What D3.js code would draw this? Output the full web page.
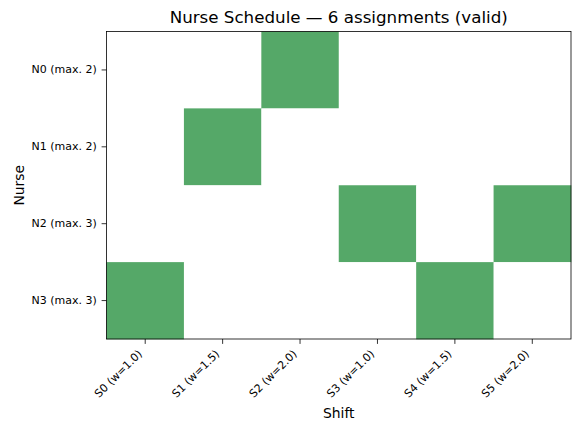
<!DOCTYPE html>
<html>
<head>
<meta charset="utf-8">
<script src="https://cdn.jsdelivr.net/npm/d3@7"></script>
<style>
  body { margin: 0; background: #fff; }
  text { font-family: "DejaVu Sans", sans-serif; fill: #000; }
</style>
</head>
<body>
<svg></svg>
<script>
const width = 581;
const height = 431;

const shifts = ['S0 (w=1.0)', 'S1 (w=1.5)', 'S2 (w=2.0)', 'S3 (w=1.0)', 'S4 (w=1.5)', 'S5 (w=2.0)'];
const nurses = ['N0 (max. 2)', 'N1 (max. 2)', 'N2 (max. 3)', 'N3 (max. 3)'];
// assignment matrix, row per nurse
const assigned = [
  [0, 0, 1, 0, 0, 0],
  [0, 1, 0, 0, 0, 0],
  [0, 0, 0, 1, 0, 1],
  [1, 0, 0, 0, 1, 0]
];

const margin = {top: 31.5, right: 10, bottom: 92, left: 106.5};

const svg = d3.select('svg')
  .attr('width', width)
  .attr('height', height);

const x = d3.scaleBand()
  .domain(shifts)
  .range([margin.left, width - margin.right]);

const y = d3.scaleBand()
  .domain(nurses)
  .range([margin.top, height - margin.bottom]);

const cells = [];
nurses.forEach((n, i) => {
  shifts.forEach((s, j) => {
    cells.push({nurse: n, shift: s, v: assigned[i][j]});
  });
});

svg.append('g')
  .selectAll('rect')
  .data(cells)
  .enter()
  .append('rect')
  .attr('x', d => x(d.shift))
  .attr('y', d => y(d.nurse))
  .attr('width', x.bandwidth() + 0.3)
  .attr('height', y.bandwidth() + 0.3)
  .attr('fill', d => d.v ? '#55a868' : '#ffffff');

const xAxis = svg.append('g')
  .attr('transform', `translate(0,${height - margin.bottom})`)
  .call(d3.axisBottom(x).tickSize(4.9).tickPadding(4.9));
xAxis.select('.domain').remove();
xAxis.selectAll('.tick line').attr('stroke', '#000').attr('stroke-width', 0.8);
xAxis.selectAll('.tick text')
  .style('font-size', '11px')
  .attr('text-anchor', 'end')
  .attr('x', 0)
  .attr('y', 0)
  .attr('dy', 0)
  .attr('transform', 'translate(-2.5,15.5) rotate(-45)');

const yAxis = svg.append('g')
  .attr('transform', `translate(${margin.left},0)`)
  .call(d3.axisLeft(y).tickSize(4.9).tickPadding(4.9));
yAxis.select('.domain').remove();
yAxis.selectAll('.tick line').attr('stroke', '#000').attr('stroke-width', 0.8);
yAxis.selectAll('.tick text').style('font-size', '11px');

// frame
svg.append('rect')
  .attr('x', margin.left)
  .attr('y', margin.top)
  .attr('width', width - margin.right - margin.left)
  .attr('height', height - margin.bottom - margin.top)
  .attr('fill', 'none')
  .attr('stroke', '#000')
  .attr('stroke-width', 0.8);

svg.append('text')
  .attr('x', (margin.left + width - margin.right) / 2)
  .attr('y', 23.3)
  .attr('text-anchor', 'middle')
  .style('font-size', '16.7px')
  .text('Nurse Schedule \u2014 6 assignments (valid)');

svg.append('text')
  .attr('x', (margin.left + width - margin.right) / 2)
  .attr('y', 417.5)
  .attr('text-anchor', 'middle')
  .style('font-size', '13.9px')
  .text('Shift');

svg.append('text')
  .attr('transform', `translate(23.5,${(margin.top + height - margin.bottom) / 2}) rotate(-90)`)
  .attr('text-anchor', 'middle')
  .style('font-size', '13.9px')
  .text('Nurse');
</script>
</body>
</html>
